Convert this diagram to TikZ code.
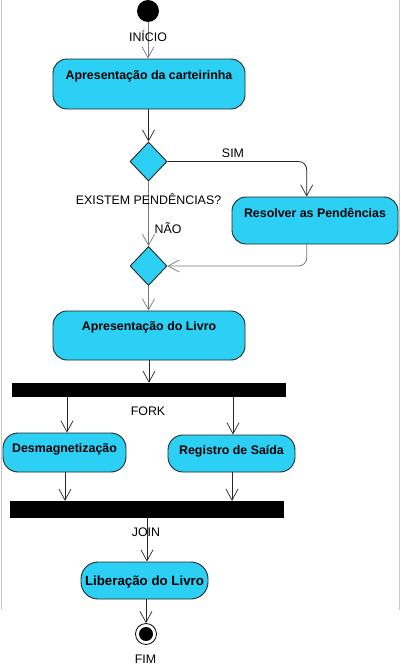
\documentclass[tikz,border=0pt]{standalone}
\usepackage{fontspec}
\setmainfont{Liberation Sans}
\usetikzlibrary{shapes.geometric,arrows.meta}
\definecolor{boxfill}{RGB}{44,208,245}
\definecolor{linegray}{RGB}{120,120,120}
\definecolor{borderg}{RGB}{200,200,200}
\tikzset{
  act/.style={rectangle, rounded corners=14pt, draw=black!85, line width=0.9pt, fill=boxfill, inner sep=0pt, text height=9pt,
    font=\bfseries\fontsize{12.4}{14}\selectfont},
  dec/.style={diamond, draw=black!85, line width=0.9pt, fill=boxfill, inner sep=0pt, minimum width=37pt, minimum height=39pt},
  bar/.style={rectangle, fill=black, inner sep=0pt, minimum height=14pt},
  lbl/.style={inner sep=0pt, font=\fontsize{12.4}{14}\selectfont},
  conn/.style={draw=black!85, line width=0.8pt, -{Straight Barb[length=11pt,width=12pt,line width=0.7pt]}},
  gconn/.style={conn, draw=linegray},
}
\begin{document}
\begin{tikzpicture}[x=1pt,y=-1pt]
\useasboundingbox (0,0) rectangle (400,672);
\fill[white] (0,0) rectangle (400,672);
\draw[borderg, line width=1pt] (1,0) -- (1,610) (399,0) -- (399,610);

\node[circle, fill=black, minimum size=22pt, inner sep=0pt] (start) at (148,11) {};
\node[act, minimum width=192pt, minimum height=50pt, text depth=18pt] (b1) at (149,84) {Apresentação da carteirinha};
\node[dec] (d1) at (148.5,161.5) {};
\node[act, minimum width=166pt, minimum height=47pt, text depth=15pt] (res) at (315,220.5) {Resolver as Pendências};
\node[dec] (d2) at (148.5,266) {};
\node[act, minimum width=192pt, minimum height=49pt, text depth=19pt] (liv) at (149,335.5) {Apresentação do Livro};
\node[bar, minimum width=274pt] (fork) at (149,390) {};
\node[act, rounded corners=15pt, minimum width=123pt, minimum height=39pt, text depth=9pt] (des) at (64.5,452.5) {Desmagnetização};
\node[act, rounded corners=15pt, minimum width=127pt, minimum height=37pt, text depth=7pt] (reg) at (231.5,453.5) {Registro de Saída};
\node[bar, minimum width=274pt, minimum height=17pt] (join) at (147,509.5) {};
\node[act, rounded corners=17pt, minimum width=127pt, minimum height=37pt, text depth=0pt, font=\bfseries\fontsize{13.3}{15}\selectfont] (lib) at (144.5,580.5) {Liberação do Livro};
\node[circle, draw=black, line width=0.8pt, fill=white, minimum size=21pt, inner sep=0pt] (fim) at (146,634) {};
\node[circle, fill=black, minimum size=14pt, inner sep=0pt] (fimin) at (146,634) {};

% connectors
\draw[gconn] (start.south) -- (start.south |- b1.north);
\draw[conn] (b1.south -| d1.north) -- (d1.north);
\draw[conn, rounded corners=8pt] (d1.east) -| ([xshift=-8.3pt]res.north);
\draw[gconn] (d1.south) -- (d2.north);
\draw[gconn, rounded corners=8pt] ([xshift=-8.3pt]res.south) |- (d2.east);
\draw[gconn] (d2.south) -- (d2.south |- liv.north);
\draw[conn] (liv.south) -- (liv.south |- fork.north);
\coordinate (f1) at (67,397);
\coordinate (f2) at (233,397);
\draw[conn] (f1) -- (f1 |- des.north);
\draw[conn] (f2) -- (f2 |- reg.north);
\coordinate (j1) at (65,472);
\coordinate (j2) at (232,472);
\draw[conn] (j1) -- (j1 |- join.north);
\draw[conn] (j2) -- (j2 |- join.north);
\coordinate (jo) at (147,518);
\draw[conn] (jo) -- (jo |- lib.north);
\coordinate (lo) at (146,599);
\draw[conn] (lo) -- (fim.north);

% labels
\node[lbl] (linicio) at (148,36) {INÍCIO};
\node[lbl] (lsim) at (233,153) {SIM};
\node[lbl] (lexist) at (148.5,199) {EXISTEM PENDÊNCIAS?};
\node[lbl] (lnao) at (168,228) {NÃO};
\node[lbl] (lfork) at (148,411) {FORK};
\node[lbl] (ljoin) at (146,532) {JOIN};
\node[lbl] (lfim) at (145.5,659) {FIM};
\end{tikzpicture}
\end{document}
